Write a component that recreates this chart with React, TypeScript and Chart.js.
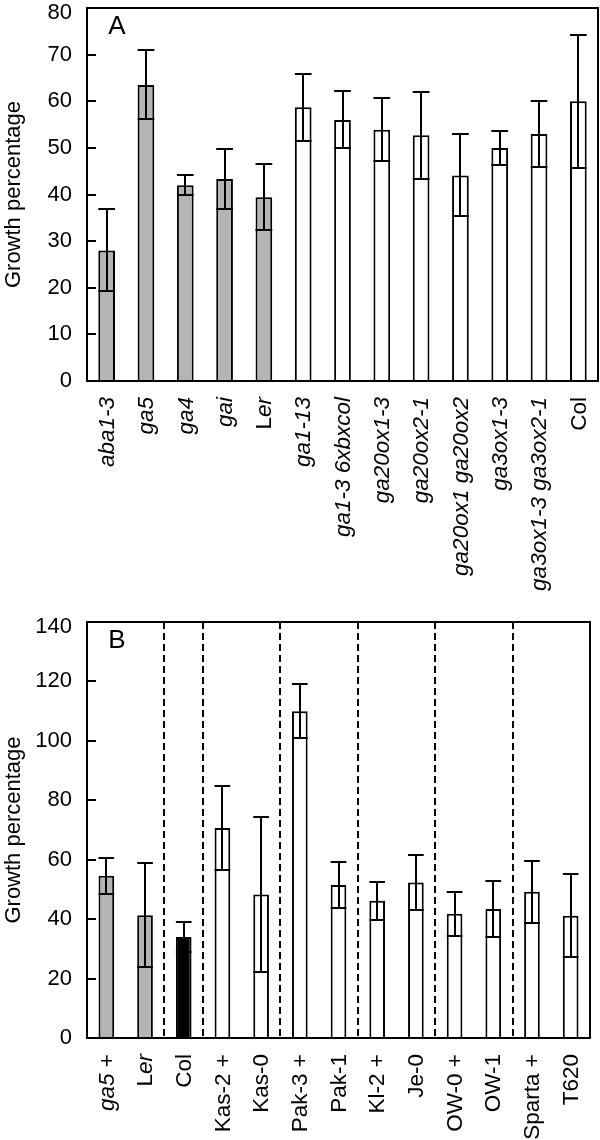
import React, { useEffect, useRef } from 'react';
import { Chart, registerables } from 'chart.js';

Chart.register(...registerables);

// ---------- Data (panel A) ----------
// '*' toggles italic text segments in the labels
const labelsA = [
  '*aba1-3*', '*ga5*', '*ga4*', '*gai*', 'L*er*', '*ga1-13*', '*ga1-3 6xbxcol*',
  '*ga20ox1-3*', '*ga20ox2-1*', '*ga20ox1 ga20ox2*', '*ga3ox1-3*', '*ga3ox1-3 ga3ox2-1*', 'Col',
];
const meansA = [28, 63.5, 42, 43.3, 39.4, 58.7, 56, 53.9, 52.7, 44.1, 50, 53, 60];
const errorsA = [8.8, 7.4, 2.1, 6.5, 7.1, 7.2, 6.1, 6.8, 9.3, 8.8, 3.7, 7.1, 14.3];
const groupsA = ['ler', 'ler', 'ler', 'ler', 'ler', 'other', 'other', 'other', 'other', 'other', 'other', 'other', 'other'];
const yTicksA = { max: 80, step: 10 };

// ---------- Data (panel B) ----------
const labelsB = [
  '*ga5* +', 'L*er*', 'Col', 'Kas-2 +', 'Kas-0', 'Pak-3 +', 'Pak-1', 'Kl-2 +', 'Je-0',
  'OW-0 +', 'OW-1', 'Sparta +', 'T620',
];
const meansB = [54.6, 41.3, 34, 70.7, 48.3, 110, 51.5, 46.2, 52.3, 41.8, 43.4, 49.2, 41.1];
const errorsB = [6, 17.5, 5, 14, 26, 9, 7.7, 6.4, 9.2, 7.4, 9.5, 10.5, 14];
const groupsB = ['ler', 'ler', 'col', 'other', 'other', 'other', 'other', 'other', 'other', 'other', 'other', 'other', 'other'];
const dividersAfterB = [1, 2, 4, 6, 8, 10];
const yTicksB = { max: 140, step: 20 };

// ---------- Styles ----------
const FONT = '"Liberation Sans", Arial, Helvetica, sans-serif';
const groupFill: Record<string, string> = { ler: '#b4b4b4', col: '#000000', other: '#ffffff' };
const TICK_SIZE = 22;
const LABEL_SIZE = 22.5;
const TITLE_SIZE = 22;

const plain = (l: string) => l.replace(/\*/g, '');
const segments = (l: string) =>
  l.split('*').map((t, i) => ({ t, italic: i % 2 === 1 })).filter((s) => s.t.length > 0);

type PanelProps = {
  letter: string;
  labels: string[];
  means: number[];
  errors: number[];
  groups: string[];
  dividers: number[];
  yTicks: { max: number; step: number };
  width: number;
  height: number;
  pad: { top: number; right: number };
  axisBottom: number;
  barPct: number;
  top: number;
};

function Panel(p: PanelProps) {
  const ref = useRef<HTMLCanvasElement | null>(null);
  useEffect(() => {
    if (!ref.current) return;
    const decor = {
      id: 'decor' + p.letter,
      afterDatasetsDraw(chart: any) {
        const { ctx, chartArea: a } = chart;
        const x = chart.scales.x;
        const y = chart.scales.y;
        const meta = chart.getDatasetMeta(0);
        ctx.save();
        ctx.strokeStyle = '#000';
        ctx.fillStyle = '#000';
        // dividers
        ctx.lineWidth = 2;
        ctx.setLineDash([7, 4]);
        p.dividers.forEach((d) => {
          const px = Math.round(x.getPixelForValue(d + 0.5));
          ctx.beginPath();
          ctx.moveTo(px, a.top);
          ctx.lineTo(px, a.bottom);
          ctx.stroke();
        });
        ctx.setLineDash([]);
        // error bars
        meta.data.forEach((bar: any, i: number) => {
          const m = p.means[i];
          const e = p.errors[i];
          const yt = Math.round(y.getPixelForValue(m + e));
          const yb = Math.round(y.getPixelForValue(m - e));
          const half = bar.width / 2;
          const cx = Math.round(bar.x);
          ctx.lineWidth = 2;
          ctx.beginPath();
          ctx.moveTo(cx, yt);
          ctx.lineTo(cx, yb);
          ctx.moveTo(bar.x - half, yt);
          ctx.lineTo(bar.x + half, yt);
          ctx.moveTo(bar.x - half, yb);
          ctx.lineTo(bar.x + half, yb);
          ctx.stroke();
        });
        // inward y ticks and their labels
        ctx.lineWidth = 2;
        ctx.font = `${TICK_SIZE}px ${FONT}`;
        ctx.textAlign = 'right';
        ctx.textBaseline = 'middle';
        for (let v = 0; v <= p.yTicks.max; v += p.yTicks.step) {
          const py = Math.round(y.getPixelForValue(v));
          ctx.beginPath();
          ctx.moveTo(a.left, py);
          ctx.lineTo(a.left + 9, py);
          ctx.stroke();
          ctx.fillText(String(v), a.left - 15, Math.max(py, a.top + 5));
        }
        // frame
        ctx.lineWidth = 2;
        ctx.strokeRect(a.left, a.top, a.right - a.left, a.bottom - a.top);
        // panel letter
        ctx.font = `26px ${FONT}`;
        ctx.textAlign = 'center';
        ctx.textBaseline = 'middle';
        ctx.fillText(p.letter, a.left + 30, a.top + 19);
        // rotated x labels with mixed italic
        ctx.textAlign = 'left';
        ctx.textBaseline = 'middle';
        p.labels.forEach((l, i) => {
          const segs = segments(l);
          let total = 0;
          segs.forEach((s) => {
            ctx.font = `${s.italic ? 'italic ' : ''}${LABEL_SIZE}px ${FONT}`;
            total += ctx.measureText(s.t).width;
          });
          const cx = x.getPixelForTick(i) + 1;
          ctx.save();
          ctx.translate(cx, a.bottom + 16);
          ctx.rotate(-Math.PI / 2);
          let cur = -total;
          segs.forEach((s) => {
            ctx.font = `${s.italic ? 'italic ' : ''}${LABEL_SIZE}px ${FONT}`;
            ctx.fillText(s.t, cur, 0);
            cur += ctx.measureText(s.t).width;
          });
          ctx.restore();
        });
        ctx.restore();
      },
    };

    const chart = new Chart(ref.current, {
      type: 'bar',
      data: {
        labels: p.labels.map(plain),
        datasets: [
          {
            data: p.means,
            backgroundColor: p.groups.map((g) => groupFill[g]),
            borderColor: '#000',
            borderWidth: 2,
            barPercentage: p.barPct,
            categoryPercentage: 1,
          },
        ],
      },
      options: {
        responsive: false,
        animation: false,
        devicePixelRatio: 1,
        layout: { padding: { top: p.pad.top, right: p.pad.right, left: 0, bottom: 0 } },
        plugins: { legend: { display: false }, tooltip: { enabled: false } },
        scales: {
          x: {
            grid: { display: false, drawTicks: false },
            border: { display: false },
            ticks: { display: false },
            afterFit: (s: any) => {
              s.height = p.axisBottom;
              s.paddingLeft = 0;
              s.paddingRight = 0;
            },
          },
          y: {
            min: 0,
            max: p.yTicks.max,
            grid: { display: false, drawTicks: false },
            border: { display: false },
            ticks: { display: false, stepSize: p.yTicks.step },
            title: {
              display: true,
              text: 'Growth percentage',
              color: '#000',
              font: { family: FONT, size: TITLE_SIZE },
              padding: { top: 1, bottom: 0 },
            },
            afterFit: (s: any) => {
              s.width = 87;
              s.paddingTop = 0;
              s.paddingBottom = 0;
            },
          },
        },
      },
      plugins: [decor],
    } as any);
    return () => chart.destroy();
  }, []);
  return (
    <canvas
      ref={ref}
      width={p.width}
      height={p.height}
      style={{ position: 'absolute', left: 0, top: p.top, width: p.width, height: p.height }}
    />
  );
}

export default function App() {
  return (
    <div style={{ position: 'absolute', left: 0, top: 0, width: 600, height: 1140, background: '#fff' }}>
      <Panel
        letter="A"
        labels={labelsA}
        means={meansA}
        errors={errorsA}
        groups={groupsA}
        dividers={[]}
        yTicks={yTicksA}
        width={600}
        height={600}
        pad={{ top: 8, right: 2 }}
        axisBottom={219}
        barPct={0.425}
        top={0}
      />
      <Panel
        letter="B"
        labels={labelsB}
        means={meansB}
        errors={errorsB}
        groups={groupsB}
        dividers={dividersAfterB}
        yTicks={yTicksB}
        width={600}
        height={540}
        pad={{ top: 22, right: 10 }}
        axisBottom={102}
        barPct={0.405}
        top={600}
      />
    </div>
  );
}
